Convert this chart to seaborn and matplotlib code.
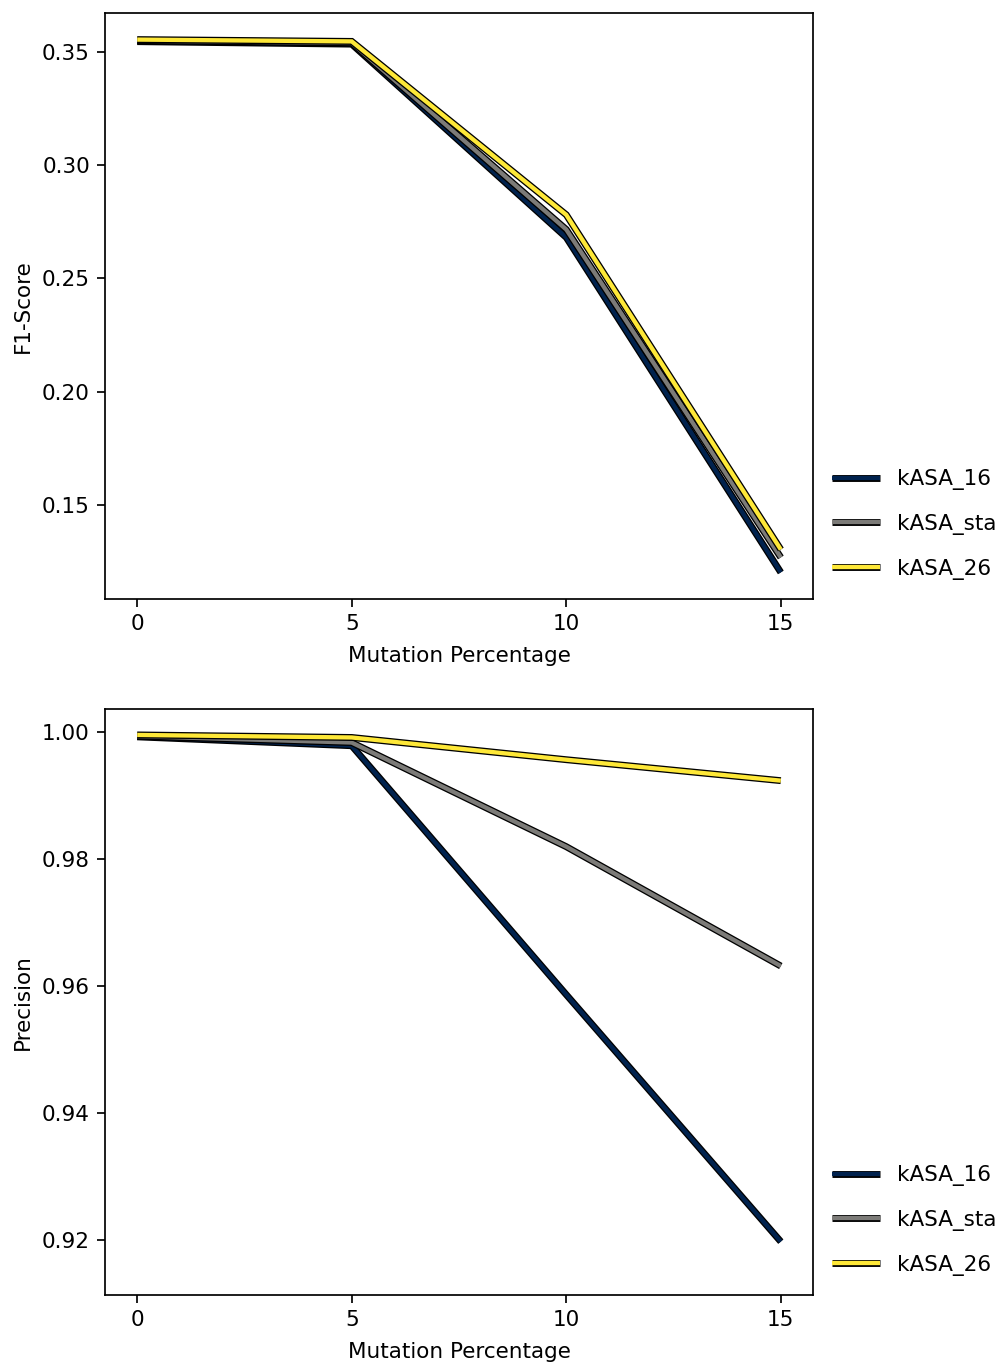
import matplotlib
matplotlib.use("Agg")
import matplotlib.pyplot as plt
import matplotlib.patheffects as pe
import seaborn as sns
import pandas as pd

mutation = [0, 5, 10, 15]
series_names = ["kASA_16", "kASA_sta", "kASA_26"]
colors = ["#00224e", "#7c7b78", "#fee838"]

f1_kasa16 = [0.3544, 0.3533, 0.2680, 0.1202]
f1_kasasta = [0.3548, 0.3538, 0.2715, 0.1268]
f1_kasa26 = [0.3553, 0.3545, 0.2780, 0.1303]

prec_kasa16 = [0.9992, 0.9978, 0.9586, 0.9197]
prec_kasasta = [0.9993, 0.9983, 0.9819, 0.9631]
prec_kasa26 = [0.9995, 0.9991, 0.9956, 0.9923]


def long_frame(vals_list):
    rows = []
    for name, vals in zip(series_names, vals_list):
        for x, y in zip(mutation, vals):
            rows.append({"Mutation Percentage": x, "value": y, "series": name})
    return pd.DataFrame(rows)


df_f1 = long_frame([f1_kasa16, f1_kasasta, f1_kasa26])
df_prec = long_frame([prec_kasa16, prec_kasasta, prec_kasa26])

dpi = 155
fig = plt.figure(figsize=(1000 / dpi, 1363 / dpi), dpi=dpi)
ax1 = fig.add_axes([0.105, 0.5605, 0.708, 0.43])
ax2 = fig.add_axes([0.105, 0.0499, 0.708, 0.43])

palette = dict(zip(series_names, colors))

for ax, df, ylabel, ticks in [
    (ax1, df_f1, "F1-Score", [0.15, 0.20, 0.25, 0.30, 0.35]),
    (ax2, df_prec, "Precision", [0.92, 0.94, 0.96, 0.98, 1.00]),
]:
    sns.lineplot(data=df, x="Mutation Percentage", y="value", hue="series",
                 hue_order=series_names, palette=palette, ax=ax,
                 linewidth=2.0, legend=False)
    lines = list(ax.lines)
    for ln, name in zip(lines, series_names):
        ln.set_solid_capstyle("butt")
        ln.set_solid_joinstyle("miter")
        ln.set_path_effects([pe.Stroke(linewidth=3.2, foreground="black"), pe.Normal()])
        ln.set_label(name)
    ax.set_xticks(mutation)
    ax.set_yticks(ticks)
    ax.set_yticklabels([f"{t:.2f}" for t in ticks])
    ax.set_ylabel(ylabel)
    ax.set_xlabel("Mutation Percentage", labelpad=5.5)
    ax.tick_params(length=3.5)
    ax.legend(handles=lines, labels=series_names, loc="lower left",
              bbox_to_anchor=(1.0, 0.0), frameon=False,
              labelspacing=1.1, handlelength=2.2)

ax2.set_ylim(0.9113, 1.0036)

fig.savefig("out.png", dpi=dpi)
